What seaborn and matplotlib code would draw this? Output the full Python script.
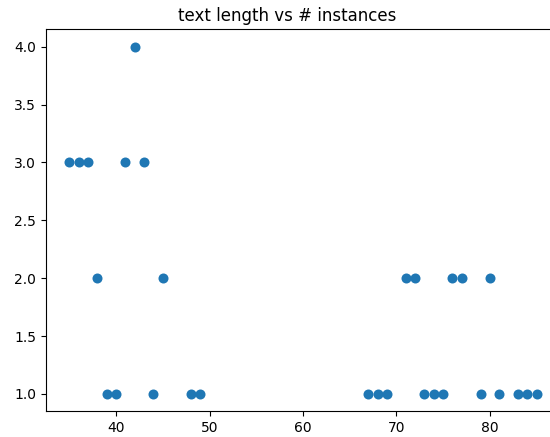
import matplotlib
matplotlib.use("Agg")
import matplotlib.pyplot as plt
import seaborn as sns
import pandas as pd

text_length = [35, 36, 37, 41, 43, 42, 38, 45, 39, 40, 44, 48, 49,
               71, 72, 76, 77, 80,
               67, 68, 69, 73, 74, 75, 79, 81, 83, 84, 85]
instances = [3, 3, 3, 3, 3, 4, 2, 2, 1, 1, 1, 1, 1,
             2, 2, 2, 2, 2,
             1, 1, 1, 1, 1, 1, 1, 1, 1, 1, 1]

df = pd.DataFrame({'length': text_length, 'count': instances})

fig = plt.figure(figsize=(5.5, 4.37), dpi=100)
# the original image is cropped on the right, so the axes runs past the edge
ax = fig.add_axes([0.0836, 0.0588, 0.9345, 0.874])
sns.scatterplot(data=df, x='length', y='count', ax=ax, s=52,
                color='#1f77b4', linewidth=0)
ax.set_title('text length vs # instances', x=0.469)
ax.set_xlabel('')
ax.set_ylabel('')
ax.set_xlim(32.5, 87.5)
ax.set_ylim(0.85, 4.15)
ax.set_xticks([40, 50, 60, 70, 80])
ax.set_yticks([1.0, 1.5, 2.0, 2.5, 3.0, 3.5, 4.0])
ax.set_yticklabels(['1.0', '1.5', '2.0', '2.5', '3.0', '3.5', '4.0'])
fig.savefig('out.png', dpi=100)
